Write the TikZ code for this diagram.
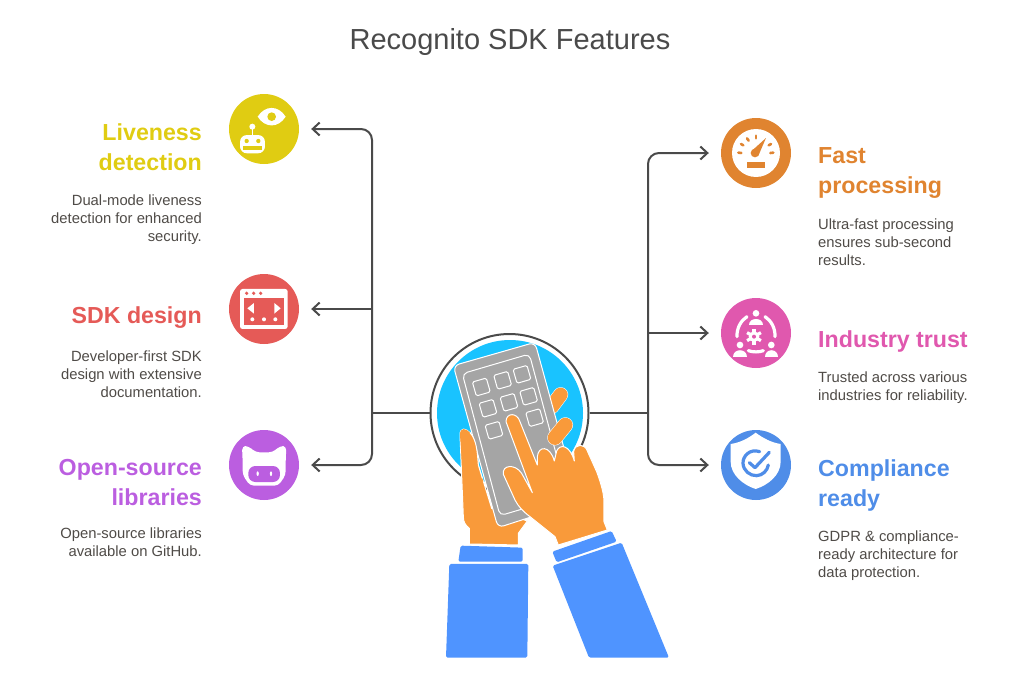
\documentclass[tikz,border=0pt]{standalone}
\usepackage{fontspec}
\setmainfont{Liberation Sans}
\usetikzlibrary{arrows.meta}
\definecolor{inkgray}{HTML}{4A4A4A}
\definecolor{blurbgray}{HTML}{4F4B47}
\definecolor{livecol}{HTML}{E0CC12}
\definecolor{sdkcol}{HTML}{E55A57}
\definecolor{osscol}{HTML}{BB5EE0}
\definecolor{fastcol}{HTML}{E08430}
\definecolor{trustcol}{HTML}{E058AE}
\definecolor{compcol}{HTML}{4F8DE8}
\definecolor{sleeve}{HTML}{4F94FF}
\definecolor{skin}{HTML}{F99A3A}
\definecolor{phonecol}{HTML}{A5A5A5}
\definecolor{hubcol}{HTML}{19C3FF}
\tikzset{
  flow/.style={draw=inkgray,line width=2pt,rounded corners=11pt},
  tip/.style={-{Straight Barb[length=7pt,width=13pt]},shorten >=12pt},
  badge/.style={circle,fill=#1,minimum size=70pt,inner sep=0pt},
  headline/.style={font=\fontsize{23.2}{30}\selectfont\bfseries,inner sep=0pt},
  blurb/.style={font=\fontsize{14.8}{18}\selectfont,text=blurbgray,inner sep=0pt},
  crop/.style={shift={(#1)},x=0.3333pt,y=-0.3333pt},
  keycap/.style={draw=white,line width=1pt,rounded corners=1.5pt,minimum size=14.5pt,inner sep=0pt,rotate=16},
  skinfill/.style={fill=skin,draw=white,line width=1pt,line join=round},
}
\begin{document}
\begin{tikzpicture}[x=1pt,y=-1pt]
    \useasboundingbox (0,0) rectangle (1020,689);
    \node[font=\fontsize{29}{34}\selectfont,text=inkgray,inner sep=0pt] (title) at (510,42) {Recognito SDK Features};

    % hub and bus lines
    \node[circle,draw=inkgray,line width=2pt,minimum size=158pt,inner sep=0pt] (hub) at (509.5,413) {};
    \node[circle,fill=hubcol,minimum size=146pt,inner sep=0pt] (hubfill) at (510,413) {};
    \coordinate (busleft) at (372,413);
    \coordinate (busright) at (648,413);

    % badges
    \node[badge=livecol] (liveness) at (264,129) {};
    \node[badge=sdkcol] (sdkdesign) at (264,309) {};
    \node[badge=osscol] (opensource) at (264,465) {};
    \node[badge=fastcol] (fastproc) at (756,153) {};
    \node[badge=trustcol] (trust) at (756,333) {};
    \node[badge=compcol] (compliance) at (756,465) {};

    \draw[flow] (hub.west) -- (busleft);
    \draw[flow] (hub.east) -- (busright);
    \foreach \target in {liveness,opensource}
    {
      \draw[flow,tip] (busleft) |- (\target.east);
    }
    \draw[flow,tip,sharp corners] (busleft) |- (sdkdesign.east);
    \foreach \target in {fastproc,compliance}
    {
      \draw[flow,tip] (busright) |- (\target.west);
    }
    \draw[flow,tip,sharp corners] (busright) |- (trust.west);

    % left column text
    \node[headline,text=livecol,align=right,anchor=north east] (livehead) at (202,123.5) {Liveness\\detection};
    \node[blurb,align=right,anchor=north east] (livetext) at (202,194.5) {Dual-mode liveness\\detection for enhanced\\security.};
    \node[headline,text=sdkcol,align=right,anchor=north east] (sdkhead) at (202,306.5) {SDK design};
    \node[blurb,align=right,anchor=north east] (sdktext) at (202,350.5) {Developer-first SDK\\design with extensive\\documentation.};
    \node[headline,text=osscol,align=right,anchor=north east] (osshead) at (202,459.5) {Open-source\\libraries};
    \node[blurb,align=right,anchor=north east] (osstext) at (202,527.5) {Open-source libraries\\available on GitHub.};

    % right column text
    \node[headline,text=fastcol,align=left,anchor=north west] (fasthead) at (818,147.5) {Fast\\processing};
    \node[blurb,align=left,anchor=north west] (fasttext) at (818,218.5) {Ultra-fast processing\\ensures sub-second\\results.};
    \node[headline,text=trustcol,align=left,anchor=north west] (trusthead) at (818,330.5) {Industry trust};
    \node[blurb,align=left,anchor=north west] (trusttext) at (818,371.5) {Trusted across various\\industries for reliability.};
    \node[headline,text=compcol,align=left,anchor=north west] (comphead) at (818,459.5) {Compliance\\ready};
    \node[blurb,align=left,anchor=north west] (comptext) at (818,530.5) {GDPR \& compliance-\\ready architecture for\\data protection.};

    % glyphs on the left badges
    \begin{scope}[crop={220,85}]
      \fill[white] (113,95) .. controls (135,60) and (175,60) .. (197,95) .. controls (175,130) and (135,130) .. (113,95) -- cycle;
      \fill[livecol] (155,95) circle (13);
      \fill[white] (97,125) circle (9);
      \draw[white,line width=1.3pt] (97,125) -- (97,155);
      \fill[white,rounded corners=7pt] (60,205) -- (60,150) -- (135,150) -- (135,205) -- cycle;
      \fill[livecol] (80,168) circle (6.5);
      \fill[livecol] (115,168) circle (6.5);
      \fill[livecol] (70,183) rectangle (125,195);
      \fill[white,rounded corners=2.5pt] (60,612) rectangle (203,732);
      \foreach \dotx in {80,101,122}
      {
        \fill[sdkcol] (\dotx,625) circle (5.5);
      }
      \fill[sdkcol] (72,640) rectangle (191,720);
      \fill[white] (82,670) -- (102,654) -- (102,686) -- cycle;
      \fill[white] (182,670) -- (163,654) -- (163,686) -- cycle;
      \foreach \dotx in {97,132,166}
      {
        \fill[white] (\dotx,703) circle (6);
      }
    \end{scope}
    \begin{scope}[crop={220,420}]
      \fill[white,rounded corners=4pt] (68,125) -- (66,78) -- (85,78) -- (107,97) -- (158,97) -- (180,78) -- (199,78) -- (197,125) -- (197,165) -- (175,197) -- (90,197) -- (68,165) -- cycle;
      \fill[osscol,rounded corners=7pt] (85,138) rectangle (180,186);
      \fill[white] (113,161) ellipse (3.5 and 7);
      \fill[white] (153,161) ellipse (3.5 and 7);
    \end{scope}

    % glyphs on the right badges
    \begin{scope}[crop={710,110}]
      \fill[white] (138,129) circle (72);
      \foreach \tickx/\ticky/\tockx/\tocky in {85/128/94/129,93/102/100/106,111/85/116/92,138/77/138/85,183/102/176/106,190/128/181/129}
      {
        \draw[fastcol,line width=2.6pt,line cap=round] (\tickx,\ticky) -- (\tockx,\tocky);
      }
      \fill[fastcol] (135,129) circle (13);
      \fill[fastcol] (126,122) -- (168,84) -- (145,137) -- cycle;
      \fill[fastcol] (111,157) rectangle (165,173);
      \fill[white] (138,610) circle (10);
      \fill[white] (118,645) .. controls (118,620) and (158,620) .. (158,645) -- cycle;
      \fill[white] (90,705) circle (10);
      \fill[white] (70,740) .. controls (70,715) and (110,715) .. (110,740) -- cycle;
      \fill[white] (184,705) circle (10);
      \fill[white] (164,740) .. controls (164,715) and (204,715) .. (204,740) -- cycle;
      \draw[white,line width=3.2pt,line cap=round] (81,680) .. controls (80,655) and (92,632) .. (111,620);
      \draw[white,line width=3.2pt,line cap=round] (195,680) .. controls (196,655) and (184,632) .. (165,620);
      \draw[white,line width=3.2pt,line cap=round] (115,722) .. controls (128,727) and (148,727) .. (160,722);
      \foreach \spoke in {30,90,...,330}
      {
        \draw[white,line width=3.2pt] (132,680) -- ++(\spoke:24);
      }
      \fill[white] (132,680) circle (16);
      \fill[trustcol] (132,680) circle (6);
    \end{scope}
    \begin{scope}[crop={710,420}]
      \fill[white] (62,72) .. controls (90,68) and (115,55) .. (137,38) .. controls (160,55) and (185,68) .. (212,72) -- (212,125) .. controls (212,165) and (175,195) .. (137,207) .. controls (100,195) and (62,165) .. (62,125) -- cycle;
      \draw[compcol,line width=3.2pt,line cap=round] (149,95) .. controls (120,85) and (98,108) .. (99,130) .. controls (100,152) and (120,168) .. (140,167) .. controls (158,166) and (172,152) .. (175,135);
      \draw[compcol,line width=3.2pt,line cap=round,line join=round] (118,128) -- (135,143) -- (178,97);
    \end{scope}

    % hands and phone
    \begin{scope}[crop={420,325}]
      \draw[skinfill] (120,330) .. controls (120,305) and (138,310) .. (150,323) .. controls (170,345) and (172,380) .. (175,420) -- (215,550) -- (322,588) -- (295,625) -- (295,660) -- (148,657) -- (148,610) .. controls (135,600) and (130,590) .. (130,575) -- cycle;
      \draw[white,line width=15pt,line cap=round] (422,209) -- (395,245);
      \draw[skin,line width=14pt,line cap=round] (422,209) -- (395,245);
      \draw[fill=phonecol,draw=white,line width=1pt,rounded corners=6pt] (100,122) -- (345,52) -- (476,530) -- (234,608) -- cycle;
      \draw[white,line width=1pt,rounded corners=5pt] (127,146) -- (328,87) -- (442,512) -- (240,572) -- cycle;
      \foreach \keyx/\keyy in {184/186,248/166,306/148,204/250,267/232,326/214,222/316,344/278}
      {
        \node[keycap] (key\keyx) at (\keyx,\keyy) {};
      }
      % thumb of the lower hand lies over the phone
      \fill[skin] (120,330) .. controls (120,305) and (138,310) .. (150,323) .. controls (170,345) and (172,380) .. (175,420) -- (190,470) -- (130,470) -- cycle;
      \draw[white,line width=1pt] (150,323) .. controls (170,345) and (172,380) .. (175,420) -- (187,460);
      \draw[white,line width=15.5pt,line cap=round] (405,338) -- (436,300);
      \draw[skin,line width=14.5pt,line cap=round] (405,338) -- (436,300);
      \draw[skinfill] (258,290) .. controls (258,262) and (292,262) .. (300,290) -- (352,420) -- (352,395) .. controls (355,362) and (390,360) .. (403,408) -- (410,378) .. controls (420,355) and (450,360) .. (463,408) -- (461,380) .. controls (465,355) and (495,355) .. (502,378) -- (530,440) .. controls (545,480) and (552,510) .. (552,530) -- (552,590) -- (562,615) -- (415,660) -- (405,635) -- (330,575) .. controls (310,560) and (295,545) .. (285,525) -- (250,448) .. controls (245,420) and (285,415) .. (305,445) -- (337,503) -- cycle;
      \fill[sleeve,rounded corners=1.5pt] (122,662) -- (308,668) -- (308,710) -- (115,710) -- cycle;
      \fill[sleeve,rounded corners=1.5pt] (88,717) -- (325,717) -- (322,998) -- (78,998) -- cycle;
      \fill[sleeve,rounded corners=1.5pt] (397,680) -- (575,618) -- (590,650) -- (410,712) -- cycle;
      \fill[sleeve,rounded corners=1.5pt] (398,722) -- (605,653) -- (747,998) -- (507,998) -- cycle;
    \end{scope}
\end{tikzpicture}
\end{document}
